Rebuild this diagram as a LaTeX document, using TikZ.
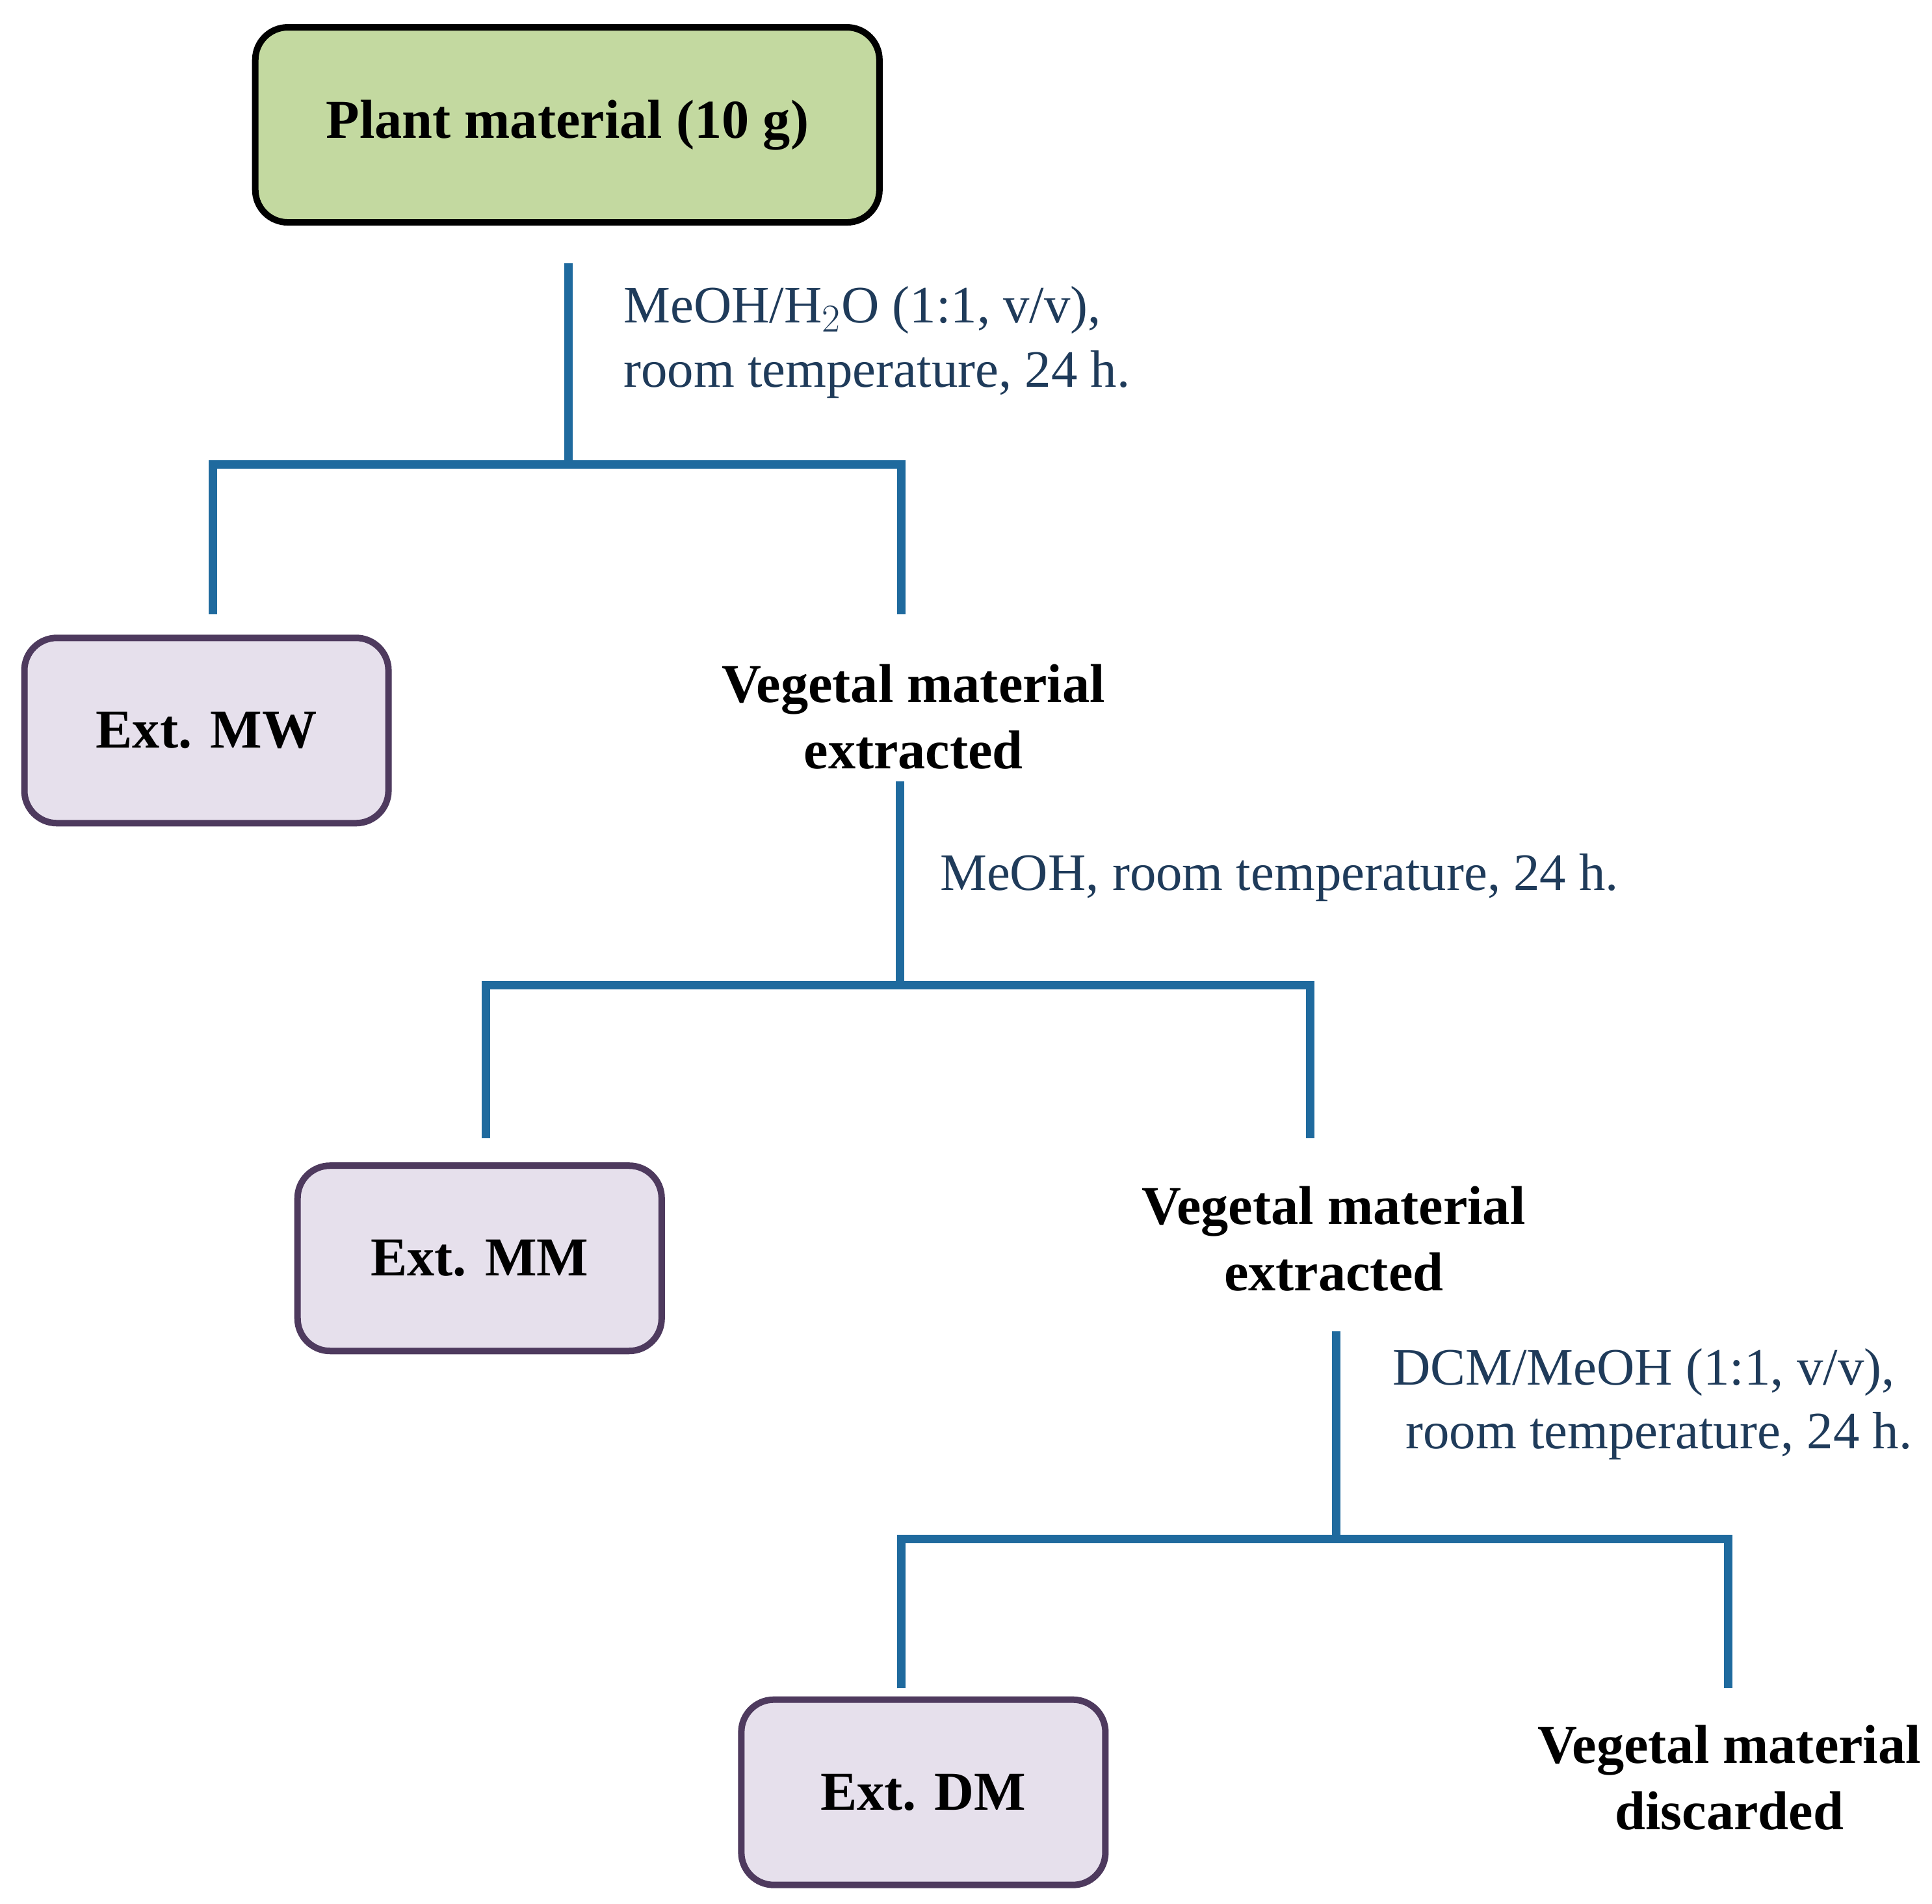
\documentclass[tikz,border=0pt]{standalone}
\usepackage{fontspec}
\setmainfont{Liberation Serif}
\definecolor{ln}{HTML}{1F6A9E}
\definecolor{lab}{HTML}{1F3B5A}
\definecolor{grn}{HTML}{C3D9A0}
\definecolor{lil}{HTML}{E6E0EC}
\definecolor{pur}{HTML}{4E3A5E}
\begin{document}
\begin{tikzpicture}[x=0.019015cm,y=-0.019015cm,
  conn/.style={draw=ln,line width=0.13cm},
  ext/.style={draw=pur,fill=lil,line width=0.1cm,rounded corners=0.5cm,minimum width=5.6cm,minimum height=2.85cm,font=\fontsize{24}{29}\selectfont\bfseries},
  res/.style={align=center,font=\fontsize{24}{29}\selectfont\bfseries},
  lbl/.style={align=left,text=lab,font=\fontsize{23}{28}\selectfont,anchor=west}]
\useasboundingbox (0,0) rectangle (1563,1540);
\node[draw=black,fill=grn,line width=0.1cm,rounded corners=0.5cm,minimum width=9.6cm,minimum height=3.0cm,font=\fontsize{24}{29}\selectfont\bfseries] (plant) at (459,101) {Plant material (10 g)};
\node[ext] (mw) at (167,591) {Ext. MW};
\node[res] (v1) at (739,580) {Vegetal material\\extracted};
\node[ext] (mm) at (388,1018) {Ext. MM};
\node[res] (v2) at (1079,1002) {Vegetal material\\extracted};
\node[ext] (dm) at (747,1450) {Ext. DM};
\node[res] (v3) at (1399,1438) {Vegetal material\\discarded};
\coordinate (a0) at (460,213); \coordinate (a1) at (460,376);
\coordinate (a2) at (172,376); \coordinate (a3) at (729,376);
\coordinate (a4) at (172,497); \coordinate (a5) at (729,497);
\draw[conn] (a0)--(a1);
\draw[conn] (a4)--(a2)--(a3)--(a5);
\coordinate (b0) at (728,632); \coordinate (b1) at (728,797);
\coordinate (b2) at (393,797); \coordinate (b3) at (1060,797);
\coordinate (b4) at (393,921); \coordinate (b5) at (1060,921);
\draw[conn] (b0)--(b1);
\draw[conn] (b4)--(b2)--(b3)--(b5);
\coordinate (c0) at (1081,1077); \coordinate (c1) at (1081,1245);
\coordinate (c2) at (729,1245); \coordinate (c3) at (1398,1245);
\coordinate (c4) at (729,1366); \coordinate (c5) at (1398,1366);
\draw[conn] (c0)--(c1);
\draw[conn] (c4)--(c2)--(c3)--(c5);
\node[lbl] (l1) at (498,277) {MeOH/H$_2$O (1:1, v/v),\\room temperature, 24 h.};
\node[lbl] (l2) at (754,710) {MeOH, room temperature, 24 h.};
\node[lbl] (l3) at (1120,1136) {DCM/MeOH (1:1, v/v),\\\ room temperature, 24 h.};
\end{tikzpicture}
\end{document}
